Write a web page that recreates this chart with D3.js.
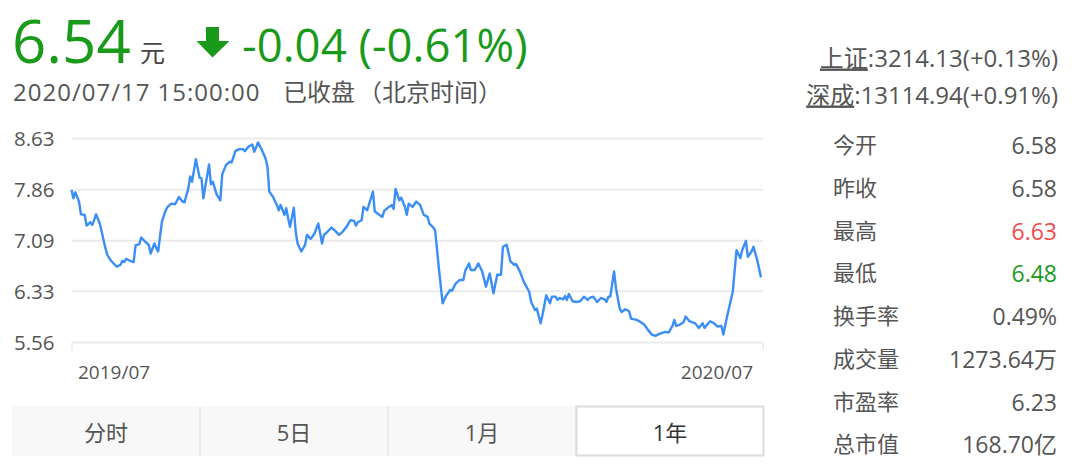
<!DOCTYPE html>
<html>
<head>
<meta charset="utf-8">
<script src="https://cdn.jsdelivr.net/npm/d3@7"></script>
<style>
  html, body { margin: 0; padding: 0; background: #fff; }
  svg { display: block; }
  text { font-family: "Open Sans", "Noto Sans CJK SC", sans-serif; }
</style>
</head>
<body>
<svg id="chart" width="1080" height="471"></svg>
<script>
// ---------------- data ----------------
const startDate = "2019-07-17";
// calendar-day offsets from startDate for each sampled close
const dayOffsets = [
  0,1,2,4,5,7,8,10,11,12,13,15,16,18,19,21,23,24,26,27,28,29,31,33,34,36,37,39,41,42,44,45,46,48,50,51,53,55,57,59,60,62,63,64,66,68,69,70,73,74,75,77,79,80,82,84,85,87,89,91,92,94,
  96,97,99,101,103,104,105,107,109,110,111,113,114,115,116,118,119,120,122,124,125,127,129,131,133,134,136,138,140,142,144,146,148,150,151,152,154,155,157,160,161,163,165,166,168,170,171,172,174,175,177,178,179,181,182,183,185,187,
  189,190,192,193,195,197,199,201,202,204,206,208,209,211,212,214,216,218,220,222,224,226,228,229,231,233,235,236,238,240,243,244,246,247,249,250,252,254,255,257,258,259,261,262,263,264,266,268,270,272,274,275,277,279,
  281,283,284,285,286,288,289,291,292,294,296,297,300,302,304,306,308,310,312,314,315,317,319,320,321,323,325,326,328,330,331,333,335,336,338,339,341,343,345,346,348,350,351,353,355,356,358,359,361,362,364,366
];
const closePrices = [
  7.86,7.73,7.82,7.68,7.49,7.48,7.32,7.37,7.33,7.40,7.49,7.35,7.23,6.98,6.88,6.79,6.73,6.70,6.73,6.79,6.77,6.82,6.79,6.77,7.02,7.04,7.14,7.08,7.03,6.90,7.05,6.98,6.93,7.38,7.55,7.60,7.65,7.64,7.75,7.68,7.67,7.88,8.06,7.98,8.32,8.04,8.03,7.73,8.24,7.94,7.98,7.79,7.70,8.09,8.23,8.28,8.27,8.44,8.47,8.47,8.44,8.51,
  8.54,8.43,8.57,8.46,8.33,8.21,7.83,7.75,7.63,7.55,7.63,7.48,7.58,7.43,7.30,7.59,7.23,7.05,6.93,7.03,7.18,7.12,7.20,7.35,7.05,7.18,7.23,7.29,7.24,7.18,7.23,7.30,7.40,7.39,7.32,7.37,7.40,7.60,7.55,7.83,7.53,7.49,7.45,7.54,7.59,7.63,7.57,7.87,7.70,7.74,7.60,7.48,7.65,7.60,7.64,7.68,7.63,7.48,
  7.45,7.35,7.29,7.25,6.68,6.15,6.27,6.35,6.34,6.45,6.50,6.50,6.64,6.75,6.65,6.65,6.75,6.63,6.40,6.60,6.30,6.58,6.58,7.00,7.03,6.78,6.73,6.74,6.63,6.48,6.32,6.17,6.05,6.07,5.85,5.97,6.27,6.15,6.25,6.25,6.20,6.23,6.21,6.26,6.20,6.29,6.18,6.17,6.18,6.25,6.20,6.23,6.25,6.17,
  6.23,6.21,6.17,6.25,6.25,6.63,6.38,6.07,6.02,6.06,6.03,5.92,5.90,5.87,5.83,5.75,5.68,5.66,5.69,5.71,5.72,5.71,5.81,5.90,5.81,5.83,5.87,5.95,5.88,5.86,5.85,5.78,5.85,5.78,5.85,5.88,5.85,5.80,5.81,5.68,5.95,6.20,6.32,6.95,6.83,6.95,7.09,6.85,6.93,7.00,6.80,6.54
];
const yTickValues = [8.63, 7.86, 7.09, 6.33, 5.56];
const xTickLabels = ["2019/07", "2020/07"];
const tabLabels = ["分时", "5日", "1月", "1年"];
const activeTab = "1年";
const statLabels = ["今开", "昨收", "最高", "最低", "换手率", "成交量", "市盈率", "总市值"];
const statValues = ["6.58", "6.58", "6.63", "6.48", "0.49%", "1273.64万", "6.23", "168.70亿"];
const statTone   = ["flat", "flat", "up", "down", "flat", "flat", "flat", "flat"];
const indexNames  = ["上证", "深成"];
const indexValues = [":3214.13(+0.13%)", ":13114.94(+0.91%)"];
const quote = { price: "6.54", unit: "元", change: "-0.04 (-0.61%)",
                time: "2020/07/17 15:00:00", status: "已收盘", zone: "（北京时间）" };

// ---------------- drawing ----------------
const svg = d3.select("#chart");
const GREEN = "#1a9a1a", RED = "#f24b4b", GRAY = "#555", BLUE = "#3a8ef6";

const parse = d3.timeParse("%Y-%m-%d");
const d0 = parse(startDate);
const series = closePrices.map((v, i) => ({ date: d3.timeDay.offset(d0, dayOffsets[i]), value: v }));

const plot = { left: 72, right: 763, top: 138.5, bottom: 342.5 };
const x = d3.scaleTime()
  .domain(d3.extent(series, d => d.date))
  .range([71.5, 761]);
const y = d3.scaleLinear()
  .domain([d3.min(yTickValues), d3.max(yTickValues)])
  .range([plot.bottom, plot.top]);

// gridlines
svg.append("g").selectAll("line").data(yTickValues).join("line")
  .attr("x1", plot.left).attr("x2", plot.right)
  .attr("y1", d => y(d)).attr("y2", d => y(d))
  .attr("stroke", "#ebebeb").attr("stroke-width", 2);
// small end ticks at bottom
svg.append("g").selectAll("line").data([plot.left, plot.right]).join("line")
  .attr("x1", d => d).attr("x2", d => d)
  .attr("y1", plot.bottom).attr("y2", plot.bottom + 8)
  .attr("stroke", "#ebebeb").attr("stroke-width", 1.5);

// y labels
svg.append("g").selectAll("text").data(yTickValues).join("text")
  .attr("x", 14).attr("y", d => y(d)).attr("dy", "0.36em")
  .attr("font-size", 20.5).attr("fill", GRAY)
  .text(d => d.toFixed(2));

// x labels
svg.append("text").attr("x", x.range()[0] + 6.5).attr("y", 379)
  .attr("font-size", 19).attr("fill", GRAY).text(xTickLabels[0]);
svg.append("text").attr("x", x.range()[1] - 8).attr("y", 379)
  .attr("text-anchor", "end").attr("font-size", 19).attr("fill", GRAY).text(xTickLabels[1]);

// line
svg.append("path").datum(series)
  .attr("fill", "none").attr("stroke", BLUE).attr("stroke-width", 2.4)
  .attr("stroke-linejoin", "round")
  .attr("d", d3.line().x(d => x(d.date)).y(d => y(d.value)));

// ---------------- header ----------------
svg.append("text").attr("x", 12).attr("y", 63).attr("font-size", 60)
  .attr("fill", GREEN).text(quote.price);
svg.append("text").attr("x", 140).attr("y", 62).attr("font-size", 25)
  .attr("fill", "#444").text(quote.unit);
// down arrow
svg.append("path")
  .attr("d", "M206,27 H219 V41 H229.5 L212.5,57.5 L196.5,41 H206 Z")
  .attr("fill", GREEN);
svg.append("text").attr("x", 242).attr("y", 62).attr("font-size", 45.5)
  .attr("fill", GREEN).text(quote.change);

svg.append("text").attr("x", 13).attr("y", 101).attr("font-size", 24)
  .attr("letter-spacing", 1).attr("fill", GRAY).text(quote.time);
svg.append("text").attr("x", 283).attr("y", 101).attr("font-size", 24)
  .attr("fill", GRAY).text(quote.status);
svg.append("text").attr("x", 358).attr("y", 101).attr("font-size", 24)
  .attr("fill", GRAY).text(quote.zone);

// index quotes
indexNames.forEach((n, i) => {
  const t = svg.append("text").attr("x", 1058).attr("y", 66.5 + i * 37)
    .attr("text-anchor", "end").attr("font-size", 24).attr("fill", GRAY);
  t.append("tspan").attr("text-decoration", "underline").text(n);
  t.append("tspan").text(indexValues[i]);
});

// stats panel
const toneColor = { flat: GRAY, up: RED, down: GREEN };
statLabels.forEach((lab, i) => {
  const by = 154 + i * 42.75;
  svg.append("text").attr("x", 833).attr("y", by - 1).attr("font-size", 22)
    .attr("fill", GRAY).text(lab);
  svg.append("text").attr("x", 1057).attr("y", by).attr("text-anchor", "end")
    .attr("font-size", 23).attr("fill", toneColor[statTone[i]]).text(statValues[i]);
});

// ---------------- tabs ----------------
const tabX = d3.scaleBand().domain(tabLabels).range([12, 764]).paddingInner(0);
const tabTop = 406, tabH = 50;
const tabs = svg.append("g");
tabs.selectAll("rect").data(tabLabels).join("rect")
  .attr("x", d => tabX(d)).attr("y", tabTop)
  .attr("width", tabX.bandwidth()).attr("height", tabH)
  .attr("fill", d => d === activeTab ? "#fff" : "#f8f8f8");
tabs.selectAll("line.div").data(tabLabels.slice(1)).join("line")
  .attr("class", "div")
  .attr("x1", d => tabX(d)).attr("x2", d => tabX(d))
  .attr("y1", tabTop).attr("y2", tabTop + tabH)
  .attr("stroke", "#e8e8e8").attr("stroke-width", 1.5);
tabs.append("rect")
  .attr("x", tabX(activeTab) + 0.5).attr("y", tabTop + 0.5)
  .attr("width", tabX.bandwidth() - 1).attr("height", tabH - 1)
  .attr("fill", "none").attr("stroke", "#dcdcdc").attr("stroke-width", 2);
tabs.selectAll("text").data(tabLabels).join("text")
  .attr("x", d => tabX(d) + tabX.bandwidth() / 2).attr("y", 441)
  .attr("text-anchor", "middle").attr("font-size", 22)
  .attr("fill", d => d === activeTab ? "#333" : GRAY)
  .text(d => d);
</script>
</body>
</html>
